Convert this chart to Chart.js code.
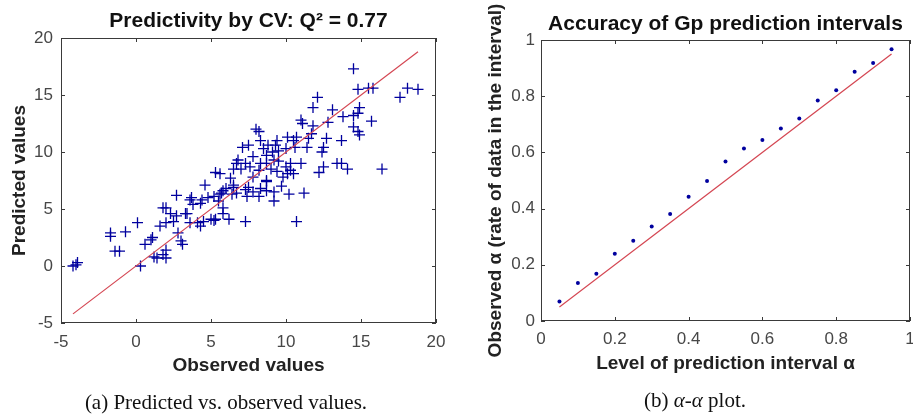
<!DOCTYPE html>
<html>
<head>
<meta charset="utf-8">
<script src="https://cdn.jsdelivr.net/npm/chart.js@4.4.1/dist/chart.umd.min.js"></script>
<style>
  html, body { margin: 0; padding: 0; background: #fff; overflow: hidden; }
  body { width: 913px; height: 415px; position: relative; }
  .wrap { position: absolute; top: 0; height: 415px; }
  .caption { position: absolute; font-family: "Liberation Serif", "DejaVu Serif", serif; font-size: 21px; line-height: 24px; color: #111; transform: translateX(-50%); white-space: nowrap; }
</style>
</head>
<body>
<div class="wrap" style="left:0;width:460px"><canvas id="cv" width="460" height="415"></canvas></div>
<div class="wrap" style="left:460px;width:460px"><canvas id="alpha" width="460" height="415"></canvas></div>
<div class="caption" style="left:226px;top:390px">(a) Predicted vs. observed values.</div>
<div class="caption" style="left:695px;top:388px">(b) <i>α</i>-<i>α</i> plot.</div>
<script>
// left panel: observed vs predicted (cross-validation)
const observed = [
  14.5, 14.8, 15.5, 15.8, 17.6, 18.1, 18.8, 12.1, 11.8, 13.1,
  12.8, 13.8, 14.5, 14.9, 14.8, 14.5, 14.8, 14.9, 15.7, 11.0,
  11.1, 11.8, 11.7, 11.5, 12.7, 12.5, 12.4, 13.7, 11.4, 10.7,
  10.5, 10.6, 10.1, 8.0, 8.2, 8.3, 7.5, 7.1, 8.5, 9.3,
  9.5, 10.0, 9.1, 8.7, 7.8, 7.3, 6.7, 7.0, 7.6, 8.2,
  8.7, 9.0, 9.5, 9.4, 10.0, 10.3, 10.5, 11.0, 10.3, 12.2,
  12.5, 13.4, 13.7, 14.1, 16.4, 5.3, 5.6, 6.3, 7.8, 8.7,
  9.8, 10.1, 4.6, 2.7, 3.7, 4.8, 5.6, 6.5, 7.3, 7.8,
  8.7, 9.2, 10.2, 11.2,
  -4.0, -3.9, -4.2, -1.7, -1.7, -0.7, -1.4, -1.1, 0.1, 0.3,
  0.6, 1.0, 1.1, 1.2, 1.4, 1.6, 1.8, 2.0, 2.0, 2.0,
  1.8, 2.0, 2.5, 2.7, 2.8, 3.0, 3.1, 3.3, 3.6, 3.8,
  4.1, 4.3, 4.4, 4.5, 5.0, 5.2, 5.3, 5.5, 5.7, 5.8,
  5.8, 6.0, 6.2, 6.4, 6.5, 7.3, 7.4, 8.2, 8.7, 9.2,
  9.7, 10.7,
  8.8, 9.4, 6.8, 8.3, 9.2, 6.5, 5.8, 7.5, 8.3, 3.6,
  4.3, 2.3, 3.4, 5.2, 6.7
];
const predicted = [
  17.3, 15.5, 15.6, 15.6, 14.8, 15.6, 15.5, 14.8, 13.9, 13.7,
  12.6, 13.1, 13.2, 13.9, 13.4, 12.2, 11.8, 11.5, 12.7, 12.8,
  12.5, 12.3, 11.6, 11.2, 11.2, 10.4, 10.0, 11.0, 10.4, 11.3,
  11.0, 10.4, 11.3, 12.0, 11.8, 11.0, 10.6, 10.4, 10.3, 10.6,
  10.1, 10.3, 10.0, 9.7, 9.6, 9.0, 9.0, 8.5, 8.7, 8.4,
  9.0, 8.5, 9.2, 8.3, 8.7, 8.4, 8.1, 9.0, 9.0, 8.2,
  8.7, 9.0, 9.0, 8.5, 8.5, 8.2, 8.1, 7.7, 7.8, 7.5,
  7.8, 8.1, 7.1, 6.2, 6.0, 6.0, 6.3, 6.9, 6.7, 6.5,
  6.6, 6.5, 6.3, 6.4,
  0.1, 0.3, 0.0, 2.9, 2.6, 3.0, 1.3, 1.3, 3.8, 0.0,
  1.9, 2.3, 2.5, 0.8, 0.7, 3.5, 5.1, 5.1, 3.8, 1.4,
  1.0, 0.7, 3.9, 4.4, 2.9, 2.2, 1.9, 4.6, 3.8, 5.4,
  3.8, 3.5, 5.8, 3.9, 4.1, 6.1, 4.1, 5.7, 6.4, 5.1,
  4.6, 6.8, 4.1, 6.3, 7.1, 3.9, 6.1, 6.1, 7.4, 5.7,
  7.0, 3.9,
  10.6, 11.0, 9.3, 9.0, 9.3, 8.5, 6.6, 6.9, 6.8, 5.8,
  5.5, 4.6, 4.6, 4.0, 6.4
];
const cvTicks = [-5, 0, 5, 10, 15, 20];

// right panel: alpha-alpha plot
const levels = [0.05, 0.10, 0.15, 0.20, 0.25, 0.30, 0.35, 0.40, 0.45, 0.50,
                0.55, 0.60, 0.65, 0.70, 0.75, 0.80, 0.85, 0.90, 0.95];
const observedAlpha = [0.069, 0.135, 0.168, 0.239, 0.286, 0.336, 0.381, 0.442, 0.498, 0.568,
                       0.614, 0.644, 0.685, 0.721, 0.785, 0.821, 0.887, 0.918, 0.967];
const alphaTicks = [0, 0.2, 0.4, 0.6, 0.8, 1];

const BLUE = '#00009e';
const RED = 'rgb(212,70,82)';
const AXIS = '#3a3a3a';
const TICKTXT = '#474747';
const FONT = '"Liberation Sans", Arial, Helvetica, sans-serif';

// matlab-ish box with inward ticks on all four sides
const boxTicks = {
  id: 'boxTicks',
  afterDatasetsDraw(chart) {
    const {ctx, chartArea: a, scales: {x, y}} = chart;
    const len = 4;
    ctx.save();
    ctx.strokeStyle = AXIS;
    ctx.lineWidth = 1;
    ctx.strokeRect(Math.round(a.left) + 0.5, Math.round(a.top) + 0.5,
                   Math.round(a.width) - 1, Math.round(a.height) - 1);
    ctx.beginPath();
    x.ticks.forEach(t => {
      const px = Math.round(x.getPixelForValue(t.value)) + 0.5;
      ctx.moveTo(px, a.bottom); ctx.lineTo(px, a.bottom - len);
      ctx.moveTo(px, a.top); ctx.lineTo(px, a.top + len);
    });
    y.ticks.forEach(t => {
      const py = Math.round(y.getPixelForValue(t.value)) + 0.5;
      ctx.moveTo(a.left, py); ctx.lineTo(a.left + len, py);
      ctx.moveTo(a.right, py); ctx.lineTo(a.right - len, py);
    });
    ctx.stroke();
    ctx.restore();
  }
};

function makeScales(ticks, yWidth, yTitle, yTitlePad, xTitle, xTitlePad, xTickPad, yTickPad) {
  const common = {
    type: 'linear',
    min: ticks[0],
    max: ticks[ticks.length - 1],
    grid: { display: false, drawTicks: false },
    border: { display: false },
    afterBuildTicks: s => { s.ticks = ticks.map(v => ({ value: v })); }
  };
  const fmt = v => String(Math.round(v * 100) / 100);
  return {
    x: Object.assign({}, common, {
      position: 'bottom',
      ticks: { padding: xTickPad, color: TICKTXT, font: { family: FONT, size: 17 }, maxRotation: 0, callback: fmt },
      title: { display: true, text: xTitle, color: '#222', font: { family: FONT, size: 19, weight: 'bold' },
               padding: { top: 0, bottom: xTitlePad } },
      afterFit: s => { s.height = 60; s.paddingLeft = 0; s.paddingRight = 0; }
    }),
    y: Object.assign({}, common, {
      position: 'left',
      ticks: { padding: yTickPad, color: TICKTXT, font: { family: FONT, size: 17 }, callback: fmt },
      title: { display: true, text: yTitle, color: '#222', font: { family: FONT, size: 19, weight: 'bold' },
               padding: { top: yTitlePad, bottom: 0 } },
      afterFit: s => { s.width = yWidth; s.paddingTop = 0; s.paddingBottom = 0; }
    })
  };
}

// left chart
const lo = Math.min(...observed), hi = Math.max(...observed);
new Chart(document.getElementById('cv'), {
  type: 'scatter',
  data: {
    datasets: [
      {
        type: 'line',
        data: [{ x: lo, y: lo }, { x: hi, y: hi }],
        borderColor: RED, borderWidth: 1.2, pointRadius: 0, fill: false, order: 0
      },
      {
        data: observed.map((v, i) => ({ x: v, y: predicted[i] })),
        pointStyle: 'cross', pointRadius: 5.5, pointBorderWidth: 1.3,
        borderColor: BLUE, backgroundColor: BLUE, order: 1
      }
    ]
  },
  options: {
    responsive: false,
    animation: false,
    devicePixelRatio: 1,
    layout: { padding: { left: 0, right: 24, top: 0, bottom: 32 } },
    plugins: {
      legend: { display: false },
      tooltip: { enabled: false },
      title: {
        display: true, fullSize: false,
        text: 'Predictivity by CV: Q² = 0.77',
        color: '#111', font: { family: FONT, size: 21, weight: 'bold' },
        padding: { top: 9, bottom: 3.8 }
      }
    },
    scales: makeScales(cvTicks, 61, 'Predicted values', 8.6, 'Observed values', 5.9, 9, 8)
  },
  plugins: [boxTicks]
});

// right chart
new Chart(document.getElementById('alpha'), {
  type: 'scatter',
  data: {
    datasets: [
      {
        type: 'line',
        data: [{ x: levels[0], y: levels[0] }, { x: levels[levels.length - 1], y: levels[levels.length - 1] }],
        borderColor: RED, borderWidth: 1.2, pointRadius: 0, fill: false, order: 0
      },
      {
        data: levels.map((v, i) => ({ x: v, y: observedAlpha[i] })),
        pointStyle: 'circle', pointRadius: 2, pointBorderWidth: 0,
        borderColor: BLUE, backgroundColor: BLUE, order: 1
      }
    ]
  },
  options: {
    responsive: false,
    animation: false,
    devicePixelRatio: 1,
    layout: { padding: { left: 0, right: 10, top: 0, bottom: 34 } },
    plugins: {
      legend: { display: false },
      tooltip: { enabled: false },
      title: {
        display: true, fullSize: false,
        text: 'Accuracy of Gp prediction intervals',
        color: '#111', font: { family: FONT, size: 21, weight: 'bold' },
        padding: { top: 11.4, bottom: 3.4 }
      }
    },
    scales: makeScales(alphaTicks, 81, 'Observed α (rate of data in the interval)', 24,
                       'Level of prediction interval α', 5.6, 8, 6)
  },
  plugins: [boxTicks]
});
</script>
</body>
</html>
